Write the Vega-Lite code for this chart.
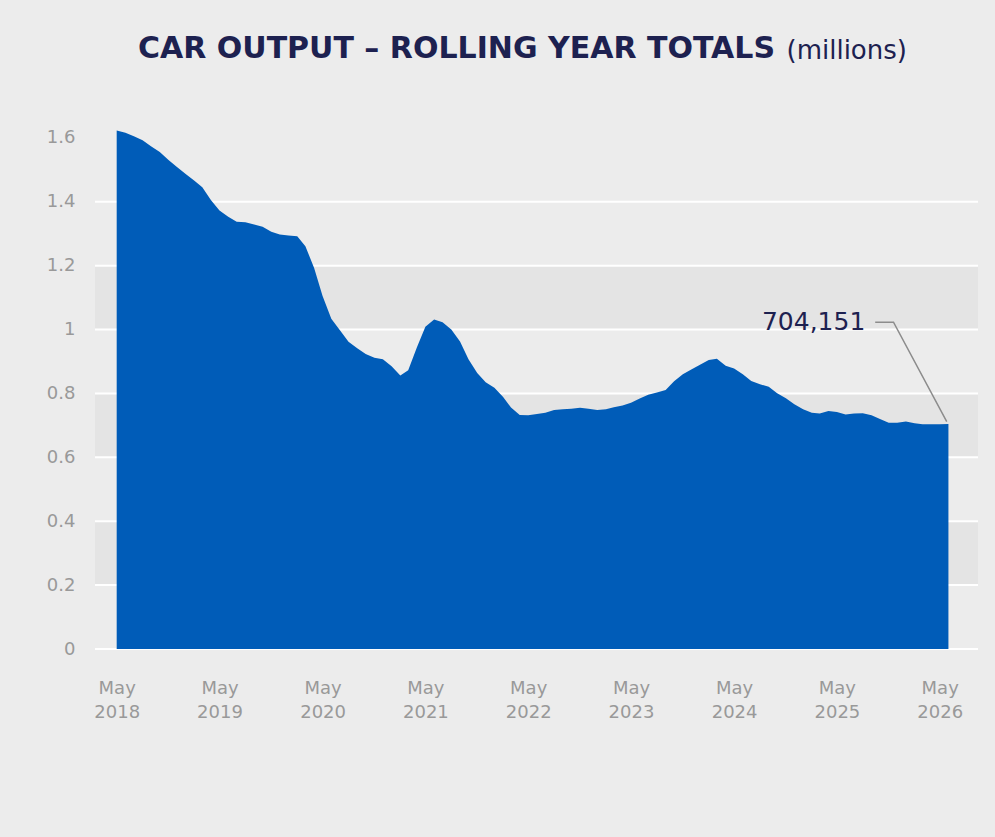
{
  "$schema": "https://vega.github.io/schema/vega-lite/v6.json",
  "width": 883,
  "height": 527,
  "autosize": {"type": "none"},
  "padding": {"left": 95, "top": 122, "right": 17, "bottom": 188},
  "background": "#ececec",
  "config": {
    "view": {"stroke": null},
    "font": "DejaVu Sans",
    "axis": {
      "domain": false,
      "ticks": false,
      "grid": false,
      "labelColor": "#999999",
      "labelFont": "DejaVu Sans",
      "labelFontSize": 18
    },
    "axisY": {
      "titleAngle": 0,
      "titleAlign": "left",
      "titleBaseline": "alphabetic",
      "titleX": 691,
      "titleY": -64,
      "titleFont": "DejaVu Sans",
      "titleFontSize": 26,
      "titleFontWeight": "normal",
      "titleColor": "#1d2150"
    }
  },
  "title": {
    "text": "CAR OUTPUT – ROLLING YEAR TOTALS",
    "anchor": "start",
    "frame": "group",
    "align": "left",
    "dx": 43,
    "offset": -27.3,
    "font": "DejaVu Sans",
    "fontSize": 30,
    "fontWeight": "bold",
    "color": "#1d2150"
  },
  "datasets": {
    "output": [
      {"month": "2018-05-01", "v": 1.623},
      {"month": "2018-06-01", "v": 1.616},
      {"month": "2018-07-01", "v": 1.605},
      {"month": "2018-08-01", "v": 1.593},
      {"month": "2018-09-01", "v": 1.573},
      {"month": "2018-10-01", "v": 1.556},
      {"month": "2018-11-01", "v": 1.531},
      {"month": "2018-12-01", "v": 1.509},
      {"month": "2019-01-01", "v": 1.487},
      {"month": "2019-02-01", "v": 1.466},
      {"month": "2019-03-01", "v": 1.446},
      {"month": "2019-04-01", "v": 1.405},
      {"month": "2019-05-01", "v": 1.373},
      {"month": "2019-06-01", "v": 1.353},
      {"month": "2019-07-01", "v": 1.338},
      {"month": "2019-08-01", "v": 1.336},
      {"month": "2019-09-01", "v": 1.329},
      {"month": "2019-10-01", "v": 1.322},
      {"month": "2019-11-01", "v": 1.306},
      {"month": "2019-12-01", "v": 1.298},
      {"month": "2020-01-01", "v": 1.295},
      {"month": "2020-02-01", "v": 1.292},
      {"month": "2020-03-01", "v": 1.261},
      {"month": "2020-04-01", "v": 1.193},
      {"month": "2020-05-01", "v": 1.105},
      {"month": "2020-06-01", "v": 1.034},
      {"month": "2020-07-01", "v": 0.999},
      {"month": "2020-08-01", "v": 0.962},
      {"month": "2020-09-01", "v": 0.942},
      {"month": "2020-10-01", "v": 0.924},
      {"month": "2020-11-01", "v": 0.912},
      {"month": "2020-12-01", "v": 0.907},
      {"month": "2021-01-01", "v": 0.885},
      {"month": "2021-02-01", "v": 0.856},
      {"month": "2021-03-01", "v": 0.873},
      {"month": "2021-04-01", "v": 0.945},
      {"month": "2021-05-01", "v": 1.009},
      {"month": "2021-06-01", "v": 1.032},
      {"month": "2021-07-01", "v": 1.023},
      {"month": "2021-08-01", "v": 1.0},
      {"month": "2021-09-01", "v": 0.963},
      {"month": "2021-10-01", "v": 0.907},
      {"month": "2021-11-01", "v": 0.864},
      {"month": "2021-12-01", "v": 0.835},
      {"month": "2022-01-01", "v": 0.818},
      {"month": "2022-02-01", "v": 0.789},
      {"month": "2022-03-01", "v": 0.756},
      {"month": "2022-04-01", "v": 0.733},
      {"month": "2022-05-01", "v": 0.732},
      {"month": "2022-06-01", "v": 0.736},
      {"month": "2022-07-01", "v": 0.74},
      {"month": "2022-08-01", "v": 0.748},
      {"month": "2022-09-01", "v": 0.751},
      {"month": "2022-10-01", "v": 0.752},
      {"month": "2022-11-01", "v": 0.755},
      {"month": "2022-12-01", "v": 0.752},
      {"month": "2023-01-01", "v": 0.748},
      {"month": "2023-02-01", "v": 0.751},
      {"month": "2023-03-01", "v": 0.757},
      {"month": "2023-04-01", "v": 0.762},
      {"month": "2023-05-01", "v": 0.771},
      {"month": "2023-06-01", "v": 0.784},
      {"month": "2023-07-01", "v": 0.796},
      {"month": "2023-08-01", "v": 0.803},
      {"month": "2023-09-01", "v": 0.811},
      {"month": "2023-10-01", "v": 0.838},
      {"month": "2023-11-01", "v": 0.86},
      {"month": "2023-12-01", "v": 0.875},
      {"month": "2024-01-01", "v": 0.89},
      {"month": "2024-02-01", "v": 0.905},
      {"month": "2024-03-01", "v": 0.909},
      {"month": "2024-04-01", "v": 0.887},
      {"month": "2024-05-01", "v": 0.878},
      {"month": "2024-06-01", "v": 0.86},
      {"month": "2024-07-01", "v": 0.839},
      {"month": "2024-08-01", "v": 0.829},
      {"month": "2024-09-01", "v": 0.821},
      {"month": "2024-10-01", "v": 0.801},
      {"month": "2024-11-01", "v": 0.785},
      {"month": "2024-12-01", "v": 0.766},
      {"month": "2025-01-01", "v": 0.751},
      {"month": "2025-02-01", "v": 0.74},
      {"month": "2025-03-01", "v": 0.737},
      {"month": "2025-04-01", "v": 0.745},
      {"month": "2025-05-01", "v": 0.742},
      {"month": "2025-06-01", "v": 0.734},
      {"month": "2025-07-01", "v": 0.737},
      {"month": "2025-08-01", "v": 0.738},
      {"month": "2025-09-01", "v": 0.732},
      {"month": "2025-10-01", "v": 0.72},
      {"month": "2025-11-01", "v": 0.708},
      {"month": "2025-12-01", "v": 0.708},
      {"month": "2026-01-01", "v": 0.712},
      {"month": "2026-02-01", "v": 0.707},
      {"month": "2026-03-01", "v": 0.704},
      {"month": "2026-04-01", "v": 0.704},
      {"month": "2026-05-01", "v": 0.704},
      {"month": "2026-06-01", "v": 0.704151}
    ],
    "bands": [
      {"lo": 0.2, "hi": 0.4},
      {"lo": 0.6, "hi": 0.8},
      {"lo": 1.0, "hi": 1.2}
    ],
    "grid": [
      {"v": 0}, {"v": 0.2}, {"v": 0.4}, {"v": 0.6},
      {"v": 0.8}, {"v": 1.0}, {"v": 1.2}, {"v": 1.4}
    ],
    "leader": [
      {"month": "2026-05-26", "v": 0.712, "seq": 1},
      {"month": "2025-11-18", "v": 1.023, "seq": 2},
      {"month": "2025-09-14", "v": 1.023, "seq": 3}
    ],
    "callout": [
      {"month": "2025-08-10", "v": 1.023, "label": "704,151"}
    ]
  },
  "layer": [
    {
      "data": {"name": "bands"},
      "mark": {"type": "rect", "color": "#e4e4e4"},
      "encoding": {
        "y": {"field": "lo", "type": "quantitative", "title": "(millions)"},
        "y2": {"field": "hi"}
      }
    },
    {
      "data": {"name": "grid"},
      "mark": {"type": "rule", "color": "#ffffff", "strokeWidth": 2},
      "encoding": {
        "y": {"field": "v", "type": "quantitative", "title": "(millions)"}
      }
    },
    {
      "data": {"name": "output"},
      "mark": {"type": "area", "color": "#005cb8", "interpolate": "linear"},
      "encoding": {
        "x": {
          "field": "month",
          "type": "temporal",
          "title": null,
          "scale": {
            "type": "utc",
            "domain": [
              {"year": 2018, "month": 2, "date": 13, "utc": true},
              {"year": 2026, "month": 9, "date": 14, "utc": true}
            ]
          },
          "axis": {
            "values": [
              {"year": 2018, "month": 5, "date": 1, "utc": true},
              {"year": 2019, "month": 5, "date": 1, "utc": true},
              {"year": 2020, "month": 5, "date": 1, "utc": true},
              {"year": 2021, "month": 5, "date": 1, "utc": true},
              {"year": 2022, "month": 5, "date": 1, "utc": true},
              {"year": 2023, "month": 5, "date": 1, "utc": true},
              {"year": 2024, "month": 5, "date": 1, "utc": true},
              {"year": 2025, "month": 5, "date": 1, "utc": true},
              {"year": 2026, "month": 5, "date": 1, "utc": true}
            ],
            "labelExpr": "[utcFormat(datum.value, '%b'), utcFormat(datum.value, '%Y')]",
            "labelAlign": "center",
            "labelPadding": 30,
            "labelLineHeight": 24,
            "labelOverlap": false
          }
        },
        "y": {
          "field": "v",
          "type": "quantitative",
          "title": "(millions)",
          "scale": {"domain": [0, 1.65], "nice": false, "zero": true},
          "axis": {
            "values": [0, 0.2, 0.4, 0.6, 0.8, 1, 1.2, 1.4, 1.6],
            "format": "~g",
            "labelPadding": 20,
            "labelOverlap": false
          }
        }
      }
    },
    {
      "data": {"name": "leader"},
      "mark": {"type": "line", "color": "#8c8c8c", "strokeWidth": 1.5},
      "encoding": {
        "x": {"field": "month", "type": "temporal", "title": null},
        "y": {"field": "v", "type": "quantitative", "title": "(millions)"},
        "order": {"field": "seq", "type": "quantitative"}
      }
    },
    {
      "data": {"name": "callout"},
      "mark": {
        "type": "text",
        "align": "right",
        "baseline": "middle",
        "font": "DejaVu Sans",
        "fontSize": 25,
        "color": "#1d2150"
      },
      "encoding": {
        "x": {"field": "month", "type": "temporal", "title": null},
        "y": {"field": "v", "type": "quantitative", "title": "(millions)"},
        "text": {"field": "label", "type": "nominal"}
      }
    }
  ]
}
